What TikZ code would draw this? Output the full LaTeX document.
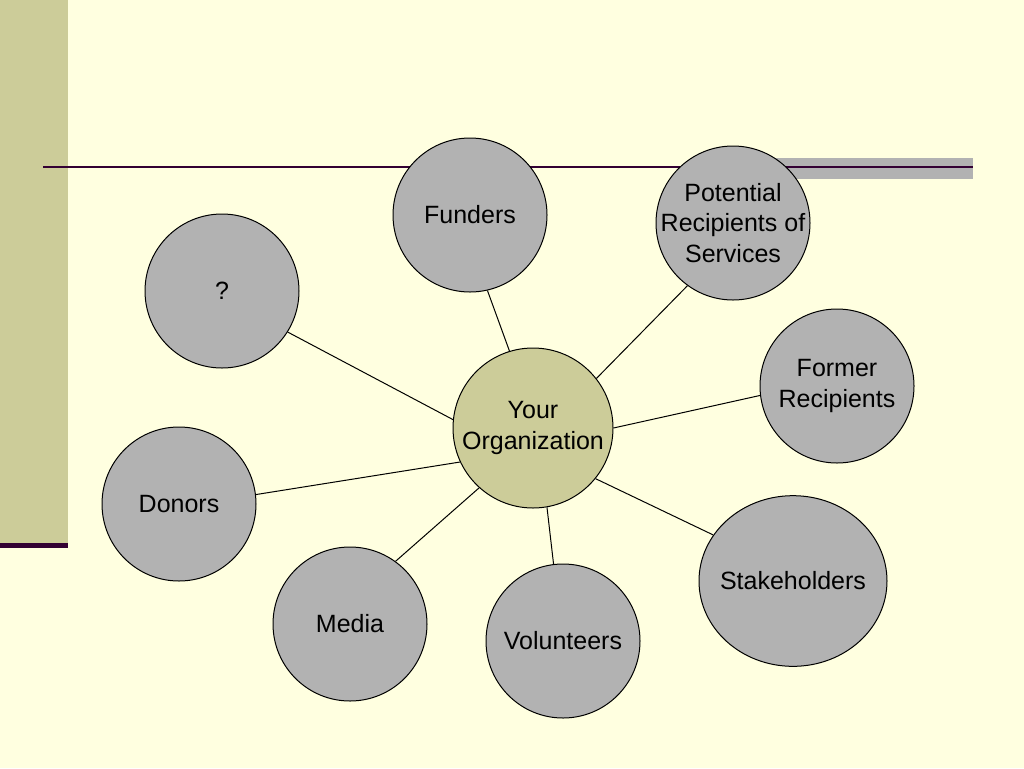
\documentclass[tikz,border=0pt]{standalone}
\usepackage{fontspec}
\setmainfont{Liberation Sans}
\usetikzlibrary{shapes.geometric}
\definecolor{paper}{RGB}{255,255,224}
\definecolor{khaki}{RGB}{204,204,153}
\definecolor{grey}{RGB}{178,178,178}
\definecolor{plum}{RGB}{51,0,51}
\begin{document}
\begin{tikzpicture}[x=0.75pt, y=-0.75pt, line width=0.75pt,
  main/.style = {circle, draw, fill=grey, minimum size=115.5pt, inner sep=0pt, align=center, font=\fontsize{18.75}{22.9}\selectfont}]
            \useasboundingbox (0,0) rectangle (1024,768);
            \fill[paper] (0,0) rectangle (1024,768);
            \fill[khaki] (0,0) rectangle (68,544);
            \fill[plum] (0,543) rectangle (68,548);
            \fill[grey] (700,158) rectangle (973,179);
            \draw[plum, line width=1.5pt] (43,167) -- (973,167);

            \node[main] (1) at (470,215) {Funders};
            \node[main, inner sep=-4pt] (2) at (733,223) {Potential\\Recipients of\\Services};
            \node[main] (3) at (837,386) {Former\\Recipients};
            \node[main, ellipse, inner xsep=-5pt, minimum width=141pt, minimum height=128pt] (4) at (793,581) {Stakeholders};
            \node[main] (5) at (563,641) {Volunteers};
            \node[main] (6) at (350,624) {Media};
            \node[main] (7) at (179,504) {Donors};
            \node[main] (8) at (222,291) {?};
            \node[main, fill=khaki, minimum size=120pt] (0) at (533,428) {Your\\Organization};

            \draw (0.107) -- (1.-77);
            \draw (0.38) -- (2.-126);
            \draw (0.0) -- (3.187);
            \draw (0.-39) -- (4.150);
            \draw (0.-80) -- (5.97);
            \draw (0.-132) -- (6.54);
            \draw (0.205) -- (7.7);
            \draw (0.174) -- (8.-32);
        \end{tikzpicture}
\end{document}
